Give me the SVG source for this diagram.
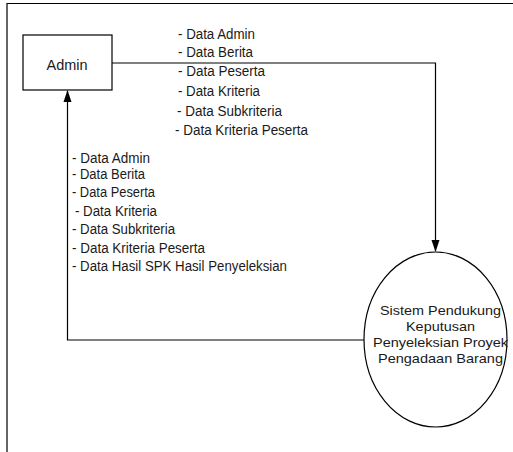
<svg xmlns="http://www.w3.org/2000/svg" width="513" height="452" viewBox="0 0 513 452">
<style>
.t{font-family:"Liberation Sans",Arial,sans-serif;font-size:14px;fill:#1a1a1a}
.e{font-size:13px}
.ln{fill:none;stroke:#000;stroke-width:1.2}
</style>
<defs>
<marker id="ah" markerWidth="12" markerHeight="10" refX="11" refY="4.5" orient="auto" markerUnits="userSpaceOnUse">
<path d="M0,0.5 L12,4.5 L0,8.5 Z" fill="#000"/>
</marker>
</defs>
<rect width="513" height="452" fill="#fff"/>
<path d="M7,452 V3.5 H513" class="ln" stroke-width="1.5"/>
<g id="admin">
<rect x="23" y="35" width="89" height="55" fill="#fff" stroke="#000" stroke-width="1.2"/>
<text class="t" x="46.5" y="70" textLength="41" lengthAdjust="spacingAndGlyphs">Admin</text>
</g>
<g id="sistem">
<ellipse cx="435.5" cy="339.5" rx="71.5" ry="87.5" fill="#fff" stroke="#000" stroke-width="1.2"/>
<text class="t e" x="380" y="315" textLength="121" lengthAdjust="spacingAndGlyphs">Sistem Pendukung</text>
<text class="t e" x="406" y="331" textLength="69" lengthAdjust="spacingAndGlyphs">Keputusan</text>
<text class="t e" x="373" y="347" textLength="135" lengthAdjust="spacingAndGlyphs">Penyeleksian Proyek</text>
<text class="t e" x="378" y="363" textLength="125" lengthAdjust="spacingAndGlyphs">Pengadaan Barang</text>
</g>
<g id="connectors">
<path d="M112,63 H435.5 V251" class="ln" marker-end="url(#ah)"/>
<path d="M364,340 H67.5 V91" class="ln" marker-end="url(#ah)"/>
</g>
<g id="labels-top">
<text class="t" x="178" y="39" textLength="77" lengthAdjust="spacingAndGlyphs">- Data Admin</text>
<text class="t" x="178" y="57" textLength="75" lengthAdjust="spacingAndGlyphs">- Data Berita</text>
<text class="t" x="178" y="76" textLength="87" lengthAdjust="spacingAndGlyphs">- Data Peserta</text>
<text class="t" x="178" y="96" textLength="82" lengthAdjust="spacingAndGlyphs">- Data Kriteria</text>
<text class="t" x="177" y="116" textLength="105" lengthAdjust="spacingAndGlyphs">- Data Subkriteria</text>
<text class="t" x="175" y="135" textLength="133" lengthAdjust="spacingAndGlyphs">- Data Kriteria Peserta</text>
</g>
<g id="labels-left">
<text class="t" x="72" y="163" textLength="78" lengthAdjust="spacingAndGlyphs">- Data Admin</text>
<text class="t" x="72" y="179" textLength="73" lengthAdjust="spacingAndGlyphs">- Data Berita</text>
<text class="t" x="72" y="196.5" textLength="83" lengthAdjust="spacingAndGlyphs">- Data Peserta</text>
<text class="t" x="75" y="216" textLength="82" lengthAdjust="spacingAndGlyphs">- Data Kriteria</text>
<text class="t" x="72" y="234" textLength="103" lengthAdjust="spacingAndGlyphs">- Data Subkriteria</text>
<text class="t" x="72" y="253" textLength="133" lengthAdjust="spacingAndGlyphs">- Data Kriteria Peserta</text>
<text class="t" x="72" y="271" textLength="215" lengthAdjust="spacingAndGlyphs">- Data Hasil SPK Hasil Penyeleksian</text>
</g>
</svg>
